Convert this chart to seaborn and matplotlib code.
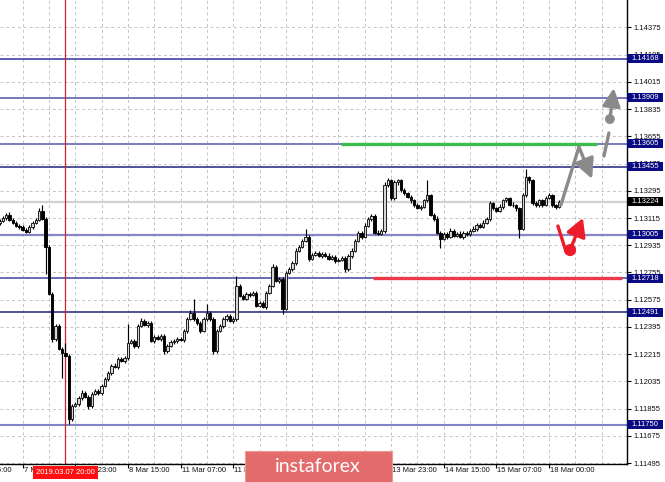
import matplotlib
matplotlib.use("Agg")
import matplotlib.pyplot as plt
import matplotlib.transforms as mtransforms
from matplotlib.patches import Rectangle
import numpy as np
import pandas as pd
import seaborn as sns

# ---------------- data (EURUSD H1) ----------------
first_open = 1.13080
close = [
    1.13098, 1.13118, 1.13138, 1.13105, 1.13085, 1.13065, 1.13058, 1.13039, 1.13025, 1.13058,
    1.13085, 1.13105, 1.13164, 1.13111, 1.12926, 1.12615, 1.12317, 1.12403, 1.12251, 1.12224,
    1.12205, 1.11787, 1.11874, 1.11887, 1.11926, 1.11960, 1.11933, 1.11874, 1.11953, 1.11973,
    1.11960, 1.12006, 1.12052, 1.12092, 1.12138, 1.12132, 1.12185, 1.12171, 1.12191, 1.12291,
    1.12304, 1.12271, 1.12403, 1.12436, 1.12410, 1.12423, 1.12304, 1.12330, 1.12317, 1.12337,
    1.12238, 1.12271, 1.12297, 1.12304, 1.12317, 1.12310, 1.12370, 1.12449, 1.12489, 1.12449,
    1.12423, 1.12370, 1.12449, 1.12489, 1.12449, 1.12238, 1.12370, 1.12403, 1.12449, 1.12469,
    1.12436, 1.12449, 1.12668, 1.12602, 1.12582, 1.12615, 1.12608, 1.12622, 1.12536, 1.12555,
    1.12529, 1.12622, 1.12668, 1.12794, 1.12701, 1.12714, 1.12516, 1.12754, 1.12780, 1.12820,
    1.12900, 1.12926, 1.12966, 1.12992, 1.12847, 1.12873, 1.12886, 1.12867, 1.12880, 1.12867,
    1.12847, 1.12860, 1.12833, 1.12840, 1.12853, 1.12780, 1.12867, 1.12900, 1.12966, 1.13019,
    1.12992, 1.13065, 1.13111, 1.13131, 1.13019, 1.13012, 1.13032, 1.13330, 1.13363, 1.13244,
    1.13350, 1.13363, 1.13297, 1.13277, 1.13257, 1.13231, 1.13198, 1.13184, 1.13191, 1.13231,
    1.13264, 1.13138, 1.13111, 1.13019, 1.12979, 1.13012, 1.12992, 1.13032, 1.12999, 1.13012,
    1.12992, 1.13019, 1.13006, 1.13032, 1.13045, 1.13072, 1.13058, 1.13085, 1.13111, 1.13211,
    1.13178, 1.13164, 1.13191, 1.13231, 1.13244, 1.13204, 1.13198, 1.13178, 1.13045, 1.13264,
    1.13383, 1.13363, 1.13211, 1.13198, 1.13231, 1.13204, 1.13250, 1.13264, 1.13198, 1.13191,
    1.13224,
]
# wick lengths beyond the body, in points (0.00001)
hi_wick = [
    10, 12, 8, 14, 10, 12, 10, 8, 12, 14, 10, 12, 16, 34, 10, 12, 8, 14, 10, 12,
    67, 10, 14, 12, 10, 16, 12, 10, 14, 12, 10, 12, 14, 10, 12, 16, 12, 10, 14, 125,
    12, 10, 14, 16, 12, 10, 14, 12, 10, 12, 10, 12, 14, 10, 12, 10, 14, 12, 16, 93,
    12, 10, 14, 60, 12, 10, 14, 12, 10, 12, 14, 10, 66, 12, 10, 14, 12, 10, 12, 14,
    10, 12, 14, 16, 12, 10, 14, 12, 10, 12, 14, 12, 10, 53, 12, 10, 14, 12, 10, 12,
    14, 12, 10, 12, 14, 10, 12, 14, 12, 10, 12, 14, 12, 10, 12, 14, 10, 20, 16, 12,
    14, 10, 12, 14, 12, 10, 12, 14, 10, 12, 99, 12, 10, 14, 12, 10, 12, 14, 10, 12,
    14, 12, 10, 12, 14, 10, 12, 14, 12, 16, 12, 10, 14, 12, 10, 12, 14, 10, 12, 14,
    59, 12, 10, 14, 12, 10, 12, 14, 10, 12, 10,
]
lo_wick = [
    10, 12, 14, 10, 12, 8, 14, 10, 12, 10, 14, 12, 10, 12, 179, 12, 20, 14, 10, 165,
    12, 33, 12, 10, 14, 12, 10, 20, 12, 10, 14, 12, 10, 12, 14, 10, 12, 10, 14, 12,
    10, 14, 12, 10, 12, 14, 10, 12, 10, 12, 20, 12, 10, 14, 12, 10, 12, 14, 10, 12,
    14, 12, 10, 12, 14, 20, 12, 10, 14, 12, 10, 12, 14, 12, 10, 12, 14, 10, 12, 10,
    12, 14, 10, 12, 10, 14, 33, 12, 10, 12, 14, 10, 12, 10, 14, 12, 10, 12, 14, 10,
    12, 10, 14, 12, 10, 19, 12, 14, 10, 12, 14, 12, 10, 14, 12, 10, 12, 14, 10, 12,
    10, 14, 12, 10, 12, 14, 10, 12, 14, 10, 12, 10, 14, 12, 60, 12, 14, 10, 12, 10,
    12, 14, 10, 12, 10, 14, 12, 10, 12, 14, 12, 10, 12, 14, 10, 12, 10, 14, 59, 12,
    12, 14, 10, 12, 10, 14, 12, 10, 12, 14, 10,
]

price_ticks = [1.11495, 1.11675, 1.11855, 1.12035, 1.12215, 1.12395, 1.12575, 1.12755,
               1.12935, 1.13115, 1.13295, 1.13475, 1.13655, 1.13835, 1.14015, 1.14195, 1.14375]
time_tick_bars = [-9, 7, 23, 39, 55, 71, 87, 103, 119, 135, 151, 167]
time_tick_labels = ["6 Mar 15:00", "7 Mar 07:00", "7 Mar 23:00", "8 Mar 15:00",
                    "11 Mar 07:00", "11 Mar 23:00", "12 Mar 15:00", "13 Mar 07:00",
                    "13 Mar 23:00", "14 Mar 15:00", "15 Mar 07:00", "18 Mar 00:00"]

level_prices = [1.14168, 1.13909, 1.13605, 1.13455, 1.13005, 1.12718, 1.12491, 1.11750]
level_colors = ["#4343a3", "#6c6cb8", "#7a7ac2", "#22227a", "#8686c9", "#5252aa", "#22227a", "#8282c6"]
level_widths = [1.2, 1.3, 1.4, 1.1, 1.6, 1.2, 1.1, 1.5]
bid_price = 1.13224

green_level = 1.13605
green_span = [103.8, 181.6]
red_level = 1.12718
red_span = [113.5, 189.2]

marker_bar = 20
marker_label = "2019.03.07 20:00"

# forecast drawings (bar, price)
up_path_bars = [170.6, 176.1, 180.1]
up_path_prices = [1.13201, 1.13584, 1.13373]
up_dash_bars = [183.7, 185.2]
up_dash_prices = [1.13525, 1.13677]
up_arrow_bars = [185.5, 186.7]
up_arrow_prices = [1.13769, 1.13974]
down_path_bars = [169.7, 172.2]
down_path_prices = [1.13062, 1.12890]
down_arrow_bars = [173.4, 177.3]
down_arrow_prices = [1.12903, 1.13115]

# ---------------- build table ----------------
df = pd.DataFrame({"bar": np.arange(len(close)), "close": close})
df["open"] = [first_open] + close[:-1]
body_top = df[["open", "close"]].max(axis=1)
body_bot = df[["open", "close"]].min(axis=1)
df["high"] = body_top + np.array(hi_wick) * 1e-5
df["low"] = body_bot - np.array(lo_wick) * 1e-5
df["bull"] = df["close"] >= df["open"]
df["body"] = np.maximum(body_top - body_bot, 0.00003)
df["bottom"] = body_bot

# ---------------- styling ----------------
sns.set_theme(style="white")
plt.rcParams["font.family"] = ["Liberation Sans", "DejaVu Sans"]

W, H = 665, 482
fig = plt.figure(figsize=(W / 100, H / 100), dpi=100)
fig.patch.set_facecolor("white")
ax = fig.add_axes([0, 18 / H, 627 / W, 464 / H])
ax.set_facecolor("white")

ax.set_xlim(0.12, 190.7)
ax.set_ylim(1.11489, 1.14556)

# grid
for p in price_ticks:
    ax.axhline(p, color="#c4c4c4", lw=0.7, ls=(0, (3, 3)), zorder=0)
for b in np.arange(-1, 191, 8):
    ax.axvline(b, color="#c4c4c4", lw=0.7, ls=(0, (3, 3)), zorder=0)

# bid line
ax.axhline(bid_price, color="#d2d2d2", lw=1.6, zorder=1)

# levels
for p, c, w in zip(level_prices, level_colors, level_widths):
    ax.axhline(p, color=c, lw=w, zorder=2)

ax.plot(green_span, [green_level, green_level], color="#3dbb4c", lw=2.4, zorder=2.5,
        solid_capstyle="butt")
ax.plot(red_span, [red_level, red_level], color="#ee3a46", lw=2.4, zorder=2.5,
        solid_capstyle="butt")

# vertical marker
ax.axvline(marker_bar, color="#d42028", lw=0.9, zorder=2.6)

# candles
ax.vlines(df["bar"], df["low"], df["high"], color="black", lw=0.85, zorder=3)
bull = df[df["bull"]]
bear = df[~df["bull"]]
ax.bar(bull["bar"], bull["body"], bottom=bull["bottom"], width=0.72, color="#d6d6d6",
       edgecolor="#111111", linewidth=0.65, zorder=4)
ax.bar(bear["bar"], bear["body"], bottom=bear["bottom"], width=0.72, color="black",
       edgecolor="black", linewidth=0.65, zorder=4)

# forecast arrows
gray = "#8a8a8a"
ax.plot(up_path_bars[:2], up_path_prices[:2], color=gray, lw=2.4, zorder=6,
        solid_capstyle="round")
ax.annotate("", xy=(up_path_bars[2], up_path_prices[2]),
            xytext=(up_path_bars[1], up_path_prices[1]),
            arrowprops=dict(arrowstyle="-|>,head_length=1.0,head_width=0.5", color=gray,
                            lw=2.4, shrinkA=0, shrinkB=0), zorder=6)
ax.plot(up_dash_bars, up_dash_prices, color=gray, lw=2.4, zorder=6, solid_capstyle="round")
ax.annotate("", xy=(up_arrow_bars[1], up_arrow_prices[1]),
            xytext=(up_arrow_bars[0], up_arrow_prices[0]),
            arrowprops=dict(arrowstyle="-|>,head_length=0.9,head_width=0.45", color=gray,
                            lw=2.4, shrinkA=0, shrinkB=0), zorder=6)
sns.scatterplot(x=[up_arrow_bars[0]], y=[up_arrow_prices[0]], color=gray, s=50,
                edgecolor="none", ax=ax, zorder=7)

red = "#ee1c2a"
ax.plot(down_path_bars, down_path_prices, color=red, lw=2.4, zorder=6, solid_capstyle="round")
ax.annotate("", xy=(down_arrow_bars[1], down_arrow_prices[1]),
            xytext=(down_arrow_bars[0], down_arrow_prices[0]),
            arrowprops=dict(arrowstyle="-|>,head_length=0.9,head_width=0.5", color=red,
                            lw=2.4, shrinkA=0, shrinkB=0), zorder=6)
sns.scatterplot(x=[down_arrow_bars[0]], y=[down_arrow_prices[0]], color=red, s=75,
                edgecolor="none", ax=ax, zorder=7)

# axes / spines
for s in ["top", "left"]:
    ax.spines[s].set_visible(False)
for s in ["right", "bottom"]:
    ax.spines[s].set_visible(True)
    ax.spines[s].set_color("black")
    ax.spines[s].set_linewidth(1.0)

ax.yaxis.tick_right()
ax.set_yticks(price_ticks)
ax.set_yticklabels([f"{p:.5f}" for p in price_ticks])
ax.tick_params(axis="y", which="major", length=3, width=0.8, color="black", pad=1.5,
               labelsize=5.5, labelcolor="#111111", right=True, left=False)
vis_ticks = [b for b in time_tick_bars if b >= 0.12]
ax.set_xticks(vis_ticks)
ax.set_xticklabels([])
ax.tick_params(axis="x", which="major", length=3, width=0.8, color="black", bottom=True)
ax.set_xlabel("")
ax.set_ylabel("")
ax.grid(False)

xtrans = mtransforms.blended_transform_factory(ax.transData, ax.transAxes)
for b, lab in zip(time_tick_bars, time_tick_labels):
    ax.text(b + 0.3, -3.5 / 464, lab, transform=xtrans, ha="left", va="top",
            fontsize=5.5, color="#111111", clip_on=False, zorder=8)

# right-hand price boxes
ytrans = mtransforms.blended_transform_factory(ax.transAxes, ax.transData)
box_h = 9 * 0.0000661
box_w = 36 / 627
for p in level_prices:
    ax.add_patch(Rectangle((1.0, p - box_h / 2), box_w, box_h, transform=ytrans,
                           facecolor="#0a0a82", edgecolor="none", clip_on=False, zorder=10))
    ax.text(1.0 + 4.5 / 627, p, f"{p:.5f}", transform=ytrans, ha="left", va="center",
            fontsize=5.5, color="white", clip_on=False, zorder=11)
ax.add_patch(Rectangle((1.0, bid_price - box_h / 2), box_w, box_h, transform=ytrans,
                       facecolor="black", edgecolor="none", clip_on=False, zorder=10))
ax.text(1.0 + 4.5 / 627, bid_price, f"{bid_price:.5f}", transform=ytrans, ha="left",
        va="center", fontsize=5.5, color="white", clip_on=False, zorder=11)

# red date label under the vertical marker
ax.add_patch(Rectangle((marker_bar - 32 / 3.29, -14.5 / 464), 65 / 3.29, 12.5 / 464,
                       transform=xtrans, facecolor="#ff1010", edgecolor="none",
                       clip_on=False, zorder=12))
ax.text(marker_bar, -8.2 / 464, marker_label, transform=xtrans, ha="center", va="center",
        fontsize=5.5, color="white", clip_on=False, zorder=13)

# watermark logo
logo = Rectangle((245 / W, 0), 147 / W, 31 / H, transform=fig.transFigure,
                 facecolor="#e36b6b", edgecolor="#ec9a9a", lw=0.8, zorder=20)
fig.add_artist(logo)
fig.text(318 / W, 15.5 / H, "instaforex", ha="center", va="center", fontsize=14,
         color="white", family=["Lato", "DejaVu Sans"], zorder=21)

fig.savefig("out.png", dpi=100, facecolor="white")
